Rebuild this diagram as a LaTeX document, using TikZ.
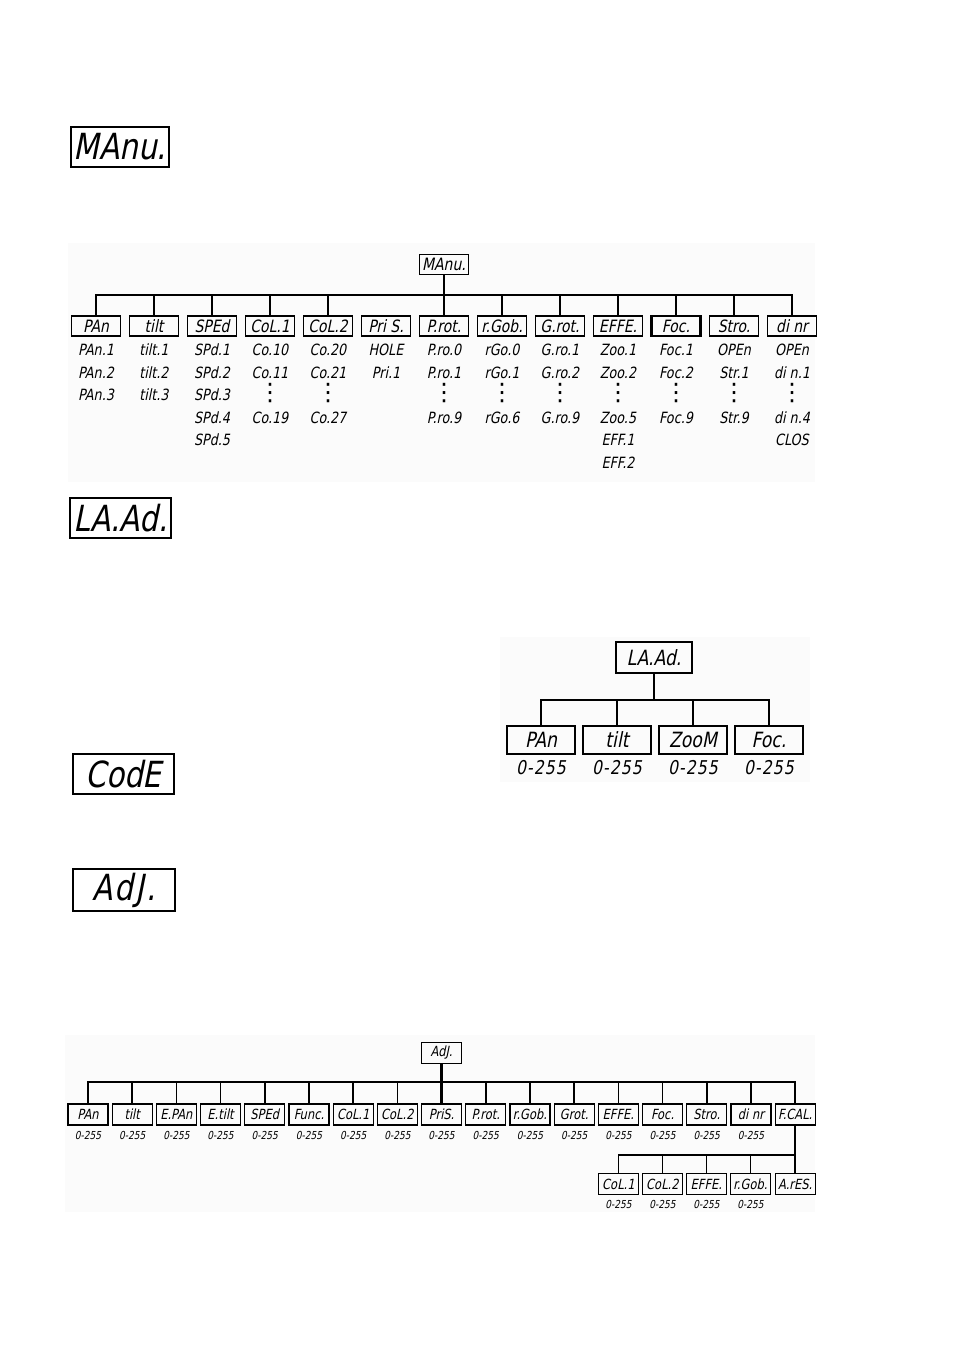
\documentclass[tikz,border=0pt]{standalone}
\usepackage{fontspec}
\newfontfamily\seg{DejaVu Sans}[FakeSlant=0.2,FakeStretch=0.82]
\newfontfamily\segw{DejaVu Sans}[FakeSlant=0.2,FakeStretch=0.82,LetterSpace=6]
\newfontfamily\symf{DejaVu Sans}
\usepackage{tikz}
\usetikzlibrary{positioning}
\tikzstyle{big} = [draw, line width=1.6pt, outer sep=0pt, minimum width=98pt, minimum height=40pt,
    inner sep=0pt, font=\seg\fontsize{36}{36}\selectfont]
\tikzstyle{mbox} = [draw, line width=1.3pt, outer sep=0pt, minimum width=49pt, minimum height=20pt,
    inner sep=0pt, font=\seg\fontsize{17}{17}\selectfont]
\tikzstyle{vals} = [anchor=north, align=center, inner sep=0pt,
    font=\seg\fontsize{15.5}{22.5}\selectfont]
\tikzstyle{lbox} = [draw, line width=1.5pt, outer sep=0pt, minimum width=68pt, minimum height=28pt,
    inner sep=0pt, font=\seg\fontsize{21}{21}\selectfont]
\tikzstyle{lval} = [anchor=north, inner sep=0pt, font=\segw\fontsize{19}{19}\selectfont]
\tikzstyle{abox} = [draw, line width=1.1pt, outer sep=0pt, minimum width=40pt, minimum height=21pt,
    inner sep=0pt, font=\seg\fontsize{14}{14}\selectfont]
\tikzstyle{aval} = [anchor=north, inner sep=0pt, font=\seg\fontsize{11}{11}\selectfont]
\tikzstyle{line} = [draw, line width=1.5pt]
\tikzstyle{stem} = [draw, line width=2.4pt]
\tikzstyle{panel} = [fill=black!1.5]
\newcommand{\vd}{{\symf\fontsize{24}{22.5}\selectfont ⋮}}

\begin{document}
\begin{tikzpicture}[x=1pt, y=-1pt]
        \useasboundingbox (0,0) rectangle (954,1350);
        \fill[panel] (68,243) rectangle (815,482);
        \fill[panel] (500,637) rectangle (810,782);
        \fill[panel] (65,1035) rectangle (815,1212);
        % Big display labels
        \node [big] (MAnuBig) at (120,147) {MAnu.};
        \node [big, minimum width=101pt] (LAAdBig) at (120.5,518) {LA.Ad.};
        \node [big, minimum width=101pt] (CodEBig) at (123.5,774) {CodE};
        \node [big, minimum width=102pt, minimum height=42pt,
            font=\segw\fontsize{36}{36}\selectfont] (AdJBig) at (124,890) {AdJ.};
        % Manual tree
        \node [mbox] (PAn) at (96,326) {PAn};
        \node [mbox] (tilt) [right =9pt of PAn] {tilt};
        \node [mbox] (SPEd) [right =9pt of tilt] {SPEd};
        \node [mbox] (CoL1) [right =9pt of SPEd] {CoL.1};
        \node [mbox] (CoL2) [right =9pt of CoL1] {CoL.2};
        \node [mbox] (PriS) [right =9pt of CoL2] {Pri S.};
        \node [mbox] (Prot) [right =9pt of PriS] {P.rot.};
        \node [mbox] (rGob) [right =9pt of Prot] {r.Gob.};
        \node [mbox] (Grot) [right =9pt of rGob] {G.rot.};
        \node [mbox] (EFFE) [right =9pt of Grot] {EFFE.};
        \node [mbox, line width=2.6pt] (Foc) [right =9pt of EFFE] {Foc.};
        \node [mbox] (Stro) [right =9pt of Foc] {Stro.};
        \node [mbox] (dinr) [right =9pt of Stro] {di nr};
        \node [mbox] (MAnu) at (Prot |- 0,264.5) {MAnu.};
        \coordinate (mj) at (MAnu |- 0,295);
        % values
        \node [vals] (vPAn) at ([yshift=-8pt]PAn.south) {PAn.1\\PAn.2\\PAn.3};
        \node [vals] (vtilt) at ([yshift=-8pt]tilt.south) {tilt.1\\tilt.2\\tilt.3};
        \node [vals] (vSPEd) at ([yshift=-8pt]SPEd.south) {SPd.1\\SPd.2\\SPd.3\\SPd.4\\SPd.5};
        \node [vals] (vCoL1) at ([yshift=-8pt]CoL1.south) {Co.10\\Co.11\\\vd\\Co.19};
        \node [vals] (vCoL2) at ([yshift=-8pt]CoL2.south) {Co.20\\Co.21\\\vd\\Co.27};
        \node [vals] (vPriS) at ([yshift=-8pt]PriS.south) {HOLE\\Pri.1};
        \node [vals] (vProt) at ([yshift=-8pt]Prot.south) {P.ro.0\\P.ro.1\\\vd\\P.ro.9};
        \node [vals] (vrGob) at ([yshift=-8pt]rGob.south) {rGo.0\\rGo.1\\\vd\\rGo.6};
        \node [vals] (vGrot) at ([yshift=-8pt]Grot.south) {G.ro.1\\G.ro.2\\\vd\\G.ro.9};
        \node [vals] (vEFFE) at ([yshift=-8pt]EFFE.south) {Zoo.1\\Zoo.2\\\vd\\Zoo.5\\EFF.1\\EFF.2};
        \node [vals] (vFoc) at ([yshift=-8pt]Foc.south) {Foc.1\\Foc.2\\\vd\\Foc.9};
        \node [vals] (vStro) at ([yshift=-8pt]Stro.south) {OPEn\\Str.1\\\vd\\Str.9};
        \node [vals] (vdinr) at ([yshift=-8pt]dinr.south) {OPEn\\di n.1\\\vd\\di n.4\\CLOS};
        % edges
        \path [stem] (MAnu) -- (Prot);
        \path [line] (mj) -| (PAn);
        \path [line] (mj) -| (tilt);
        \path [line] (mj) -| (SPEd);
        \path [line] (mj) -| (CoL1);
        \path [line] (mj) -| (CoL2);
        \path [line] (mj) -| (rGob);
        \path [line] (mj) -| (Grot);
        \path [line] (mj) -| (EFFE);
        \path [line] (mj) -| (Foc);
        \path [line] (mj) -| (Stro);
        \path [line] (mj) -| (dinr);
        % Laser address tree
        \node [lbox, minimum width=76pt, minimum height=31pt] (LAAd) at (654,657.5) {LA.Ad.};
        \node [lbox] (lPAn) at (541,740) {PAn};
        \node [lbox] (ltilt) [right =8pt of lPAn] {tilt};
        \node [lbox] (lZooM) [right =8pt of ltilt] {ZooM};
        \node [lbox] (lFoc) [right =8pt of lZooM] {Foc.};
        \node [lval] (vlPAn) at ([yshift=-6pt]lPAn.south) {0-255};
        \node [lval] (vltilt) at ([yshift=-6pt]ltilt.south) {0-255};
        \node [lval] (vlZooM) at ([yshift=-6pt]lZooM.south) {0-255};
        \node [lval] (vlFoc) at ([yshift=-6pt]lFoc.south) {0-255};
        \coordinate (lj) at (LAAd |- 0,700);
        \path [stem] (LAAd) -- (lj);
        \path [line] (lj) -| (lPAn);
        \path [line] (lj) -| (ltilt);
        \path [line] (lj) -| (lZooM);
        \path [line] (lj) -| (lFoc);
        % Adjust tree
        \node [abox] (aPAn) at (88,1114.5) {PAn};
        \node [abox] (atilt) [right =4.2pt of aPAn] {tilt};
        \node [abox] (aEPAn) [right =4.2pt of atilt] {E.PAn};
        \node [abox] (aEtilt) [right =4.2pt of aEPAn] {E.tilt};
        \node [abox] (aSPEd) [right =4.2pt of aEtilt] {SPEd};
        \node [abox] (aFunc) [right =4.2pt of aSPEd] {Func.};
        \node [abox] (aCoL1) [right =4.2pt of aFunc] {CoL.1};
        \node [abox] (aCoL2) [right =4.2pt of aCoL1] {CoL.2};
        \node [abox] (aPriS) [right =4.2pt of aCoL2] {PriS.};
        \node [abox] (aProt) [right =4.2pt of aPriS] {P.rot.};
        \node [abox] (arGob) [right =4.2pt of aProt] {r.Gob.};
        \node [abox] (aGrot) [right =4.2pt of arGob] {Grot.};
        \node [abox] (aEFFE) [right =4.2pt of aGrot] {EFFE.};
        \node [abox] (aFoc) [right =4.2pt of aEFFE] {Foc.};
        \node [abox] (aStro) [right =4.2pt of aFoc] {Stro.};
        \node [abox] (adinr) [right =4.2pt of aStro] {di nr};
        \node [abox] (aFCAL) [right =4.2pt of adinr] {F.CAL.};
        \node [abox] (AdJ) at (aPriS |- 0,1053) {AdJ.};
        \node [aval] at ([yshift=-6pt]aPAn.south) {0-255};
        \node [aval] at ([yshift=-6pt]atilt.south) {0-255};
        \node [aval] at ([yshift=-6pt]aEPAn.south) {0-255};
        \node [aval] at ([yshift=-6pt]aEtilt.south) {0-255};
        \node [aval] at ([yshift=-6pt]aSPEd.south) {0-255};
        \node [aval] at ([yshift=-6pt]aFunc.south) {0-255};
        \node [aval] at ([yshift=-6pt]aCoL1.south) {0-255};
        \node [aval] at ([yshift=-6pt]aCoL2.south) {0-255};
        \node [aval] at ([yshift=-6pt]aPriS.south) {0-255};
        \node [aval] at ([yshift=-6pt]aProt.south) {0-255};
        \node [aval] at ([yshift=-6pt]arGob.south) {0-255};
        \node [aval] at ([yshift=-6pt]aGrot.south) {0-255};
        \node [aval] at ([yshift=-6pt]aEFFE.south) {0-255};
        \node [aval] at ([yshift=-6pt]aFoc.south) {0-255};
        \node [aval] at ([yshift=-6pt]aStro.south) {0-255};
        \node [aval] at ([yshift=-6pt]adinr.south) {0-255};
        % F.CAL. sub menu
        \node [abox] (sCoL1) at (aEFFE |- 0,1184) {CoL.1};
        \node [abox] (sCoL2) [right =4pt of sCoL1] {CoL.2};
        \node [abox] (sEFFE) [right =4pt of sCoL2] {EFFE.};
        \node [abox] (srGob) [right =4pt of sEFFE] {r.Gob.};
        \node [abox] (sARES) at (aFCAL |- 0,1184) {A.rES.};
        \node [aval] at ([yshift=-6pt]sCoL1.south) {0-255};
        \node [aval] at ([yshift=-6pt]sCoL2.south) {0-255};
        \node [aval] at ([yshift=-6pt]sEFFE.south) {0-255};
        \node [aval] at ([yshift=-6pt]srGob.south) {0-255};
        \coordinate (aj) at (AdJ |- 0,1082);
        \coordinate (sj) at (aFCAL |- 0,1155);
        \path [stem] (AdJ) -- (aPriS);
        \path [line] (aj) -| (aPAn);
        \path [line] (aj) -| (atilt);
        \path [line] (aj) -| (aEPAn);
        \path [line] (aj) -| (aEtilt);
        \path [line] (aj) -| (aSPEd);
        \path [line] (aj) -| (aFunc);
        \path [line] (aj) -| (aCoL1);
        \path [line] (aj) -| (aCoL2);
        \path [line] (aj) -| (aProt);
        \path [line] (aj) -| (arGob);
        \path [line] (aj) -| (aGrot);
        \path [line] (aj) -| (aEFFE);
        \path [line] (aj) -| (aFoc);
        \path [line] (aj) -| (aStro);
        \path [line] (aj) -| (adinr);
        \path [line] (aj) -| (aFCAL);
        \path [stem] (aFCAL) -- (sARES);
        \path [line] (sj) -| (sCoL1);
        \path [line] (sj) -| (sCoL2);
        \path [line] (sj) -| (sEFFE);
        \path [line] (sj) -| (srGob);
    \end{tikzpicture}
\end{document}
